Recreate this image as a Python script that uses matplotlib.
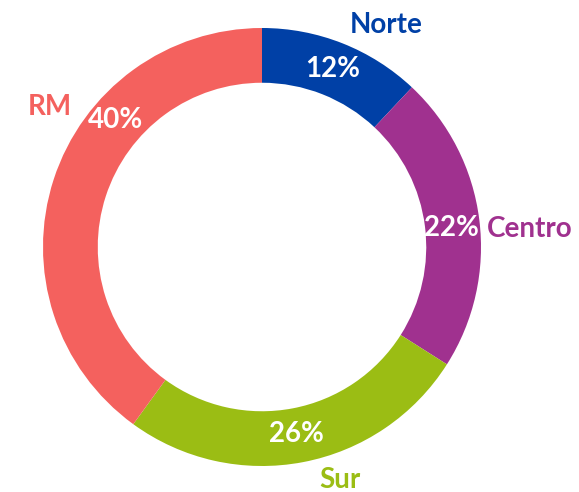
"""Donut chart: distribution by zone (Norte, Centro, Sur, RM)."""
import matplotlib.pyplot as plt
import numpy as np

zones = ["Norte", "Centro", "Sur", "RM"]
shares = [12, 22, 26, 40]
colors = ["#0040A6", "#A0318F", "#9BBD14", "#F4615E"]

# label placement (polar: angle in degrees, radius relative to outer edge)
pct_pos = [(68.4, 0.875), (5.7, 0.87), (-79.5, 0.87), (139.0, 0.885)]
name_pos = [(60.8, 1.16), (3.8, 1.225), (-71.5, 1.12), (146.6, 1.16)]

fig = plt.figure(figsize=(5.79, 4.92), dpi=100)
ax = fig.add_axes([0, 0, 1, 1])

ax.pie(shares, colors=colors, startangle=90, counterclock=False,
       radius=1.0, wedgeprops=dict(width=0.25, linewidth=0))

for i, zone in enumerate(zones):
    a, r = pct_pos[i]
    ax.text(r * np.cos(np.radians(a)), r * np.sin(np.radians(a)), f"{shares[i]}%",
            ha="center", va="center", color="white", fontsize=20,
            fontweight="bold", family="Lato")
    a, r = name_pos[i]
    ax.text(r * np.cos(np.radians(a)), r * np.sin(np.radians(a)), zone,
            ha="center", va="center", color=colors[i], fontsize=20,
            fontweight="bold", family="Lato")

ax.set_xlim(-262 / 219, (579 - 262) / 219)
ax.set_ylim(-245 / 219, 247 / 219)
ax.set_aspect("auto")
ax.axis("off")

fig.savefig("out.png", dpi=100)
